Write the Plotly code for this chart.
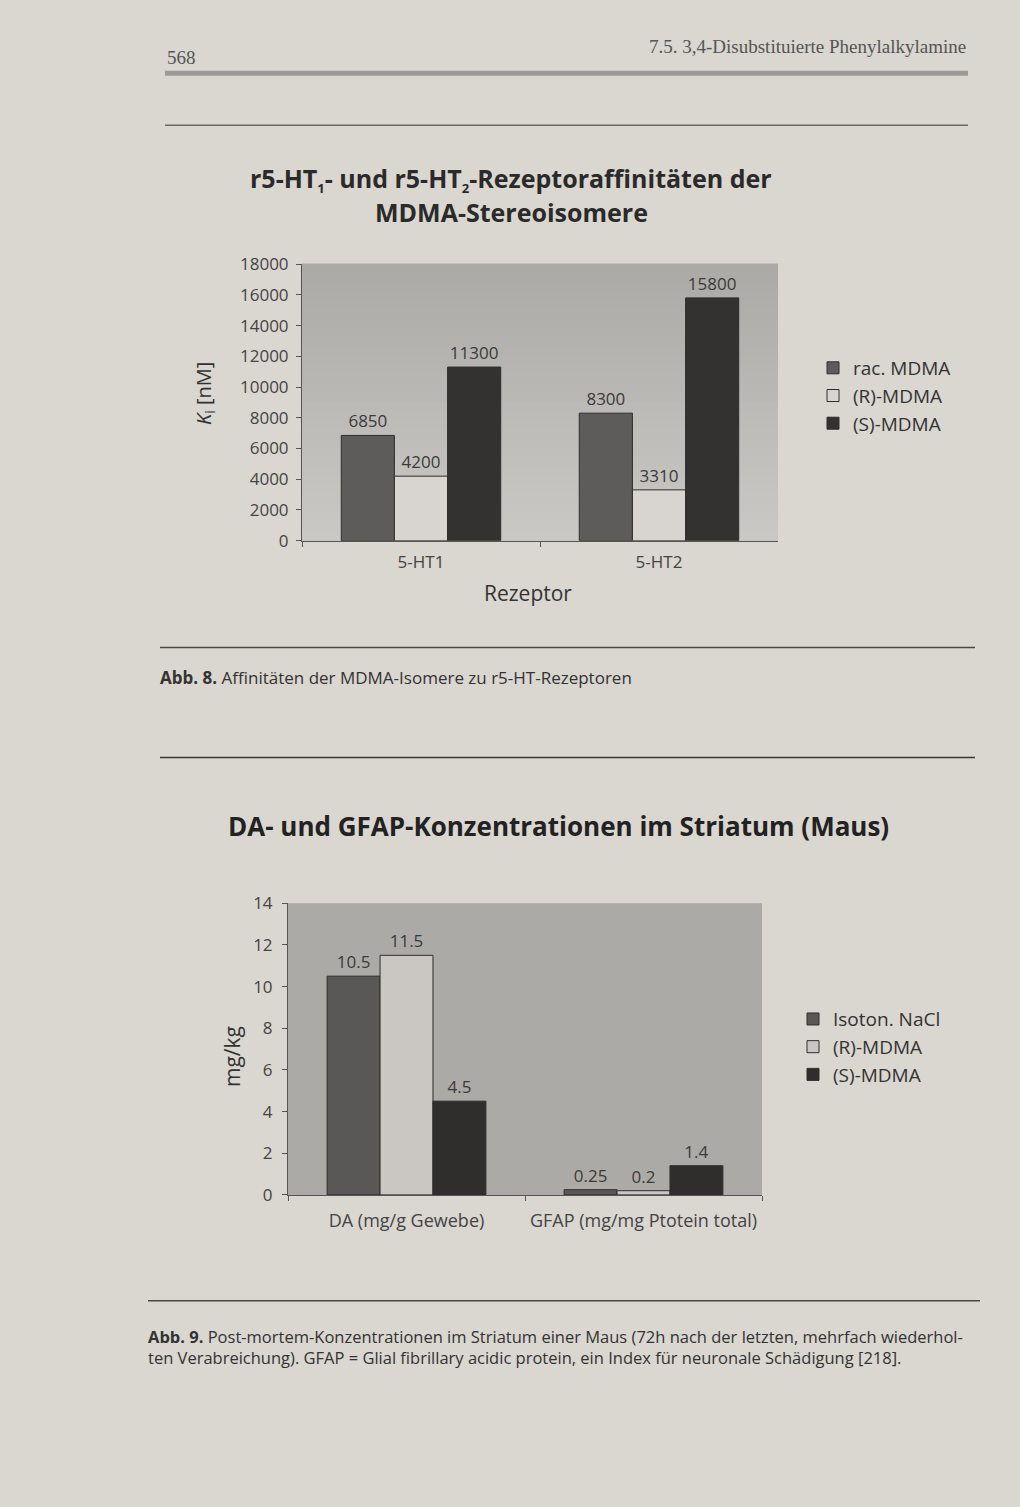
import plotly.graph_objects as go

# ---------------- data ----------------
receptors = ["5-HT1", "5-HT2"]
rac_mdma = [6850, 8300]
r_mdma_rec = [4200, 3310]
s_mdma_rec = [11300, 15800]
y1_ticks = [0, 2000, 4000, 6000, 8000, 10000, 12000, 14000, 16000, 18000]

measures = ["DA (mg/g Gewebe)", "GFAP (mg/mg Ptotein total)"]
nacl = [10.5, 0.25]
r_mdma_conc = [11.5, 0.2]
s_mdma_conc = [4.5, 1.4]
y2_ticks = [0, 2, 4, 6, 8, 10, 12, 14]

W, H = 1020, 1507
def px(x):
    return x / W
def py(y):
    # pixel row on the captured page -> paper fraction
    return 1 - ((y - 10.6) / 0.986) / H

FONT = "Open Sans"
TXT = "#3a3a3a"

fig = go.Figure()

def add_bars(xs, ys, name, color, xa, ya, legend):
    fig.add_trace(go.Bar(
        x=xs, y=ys, name=name, xaxis=xa, yaxis=ya, legend=legend,
        marker=dict(color=color, line=dict(color="#2e2e2e", width=1)),
        text=[str(v) for v in ys], textposition="outside", cliponaxis=False,
        textfont=dict(family=FONT, size=17, color=TXT),
    ))

add_bars(receptors, rac_mdma, "rac. MDMA", "#5e5c5a", "x", "y", "legend")
add_bars(receptors, r_mdma_rec, "(R)-MDMA", "#d8d5d1", "x", "y", "legend")
add_bars(receptors, s_mdma_rec, "(S)-MDMA", "#343231", "x", "y", "legend")

add_bars(measures, nacl, "Isoton. NaCl", "#5a5856", "x2", "y2", "legend2")
add_bars(measures, r_mdma_conc, "(R)-MDMA", "#cac7c3", "x2", "y2", "legend2")
add_bars(measures, s_mdma_conc, "(S)-MDMA", "#302e2d", "x2", "y2", "legend2")

axis_common = dict(
    showline=True, linecolor="#555", linewidth=1, ticks="outside", ticklen=5,
    tickcolor="#555", showgrid=False, zeroline=False,
    tickfont=dict(family=FONT, size=17, color="#444"),
)

fig.update_layout(
    width=W, height=H, margin=dict(l=0, r=0, t=0, b=0),
    paper_bgcolor="#dad6d0", plot_bgcolor="#bdbbb8",
    barmode="group", bargap=0.33, bargroupgap=0,
    showlegend=True,
    xaxis=dict(domain=[px(302), px(778)], anchor="y", tickson="boundaries",
               ticklabelstandoff=6, **axis_common),
    yaxis=dict(domain=[py(540), py(263)], anchor="x", range=[0, 18000],
               tickvals=y1_ticks, ticktext=[str(v) for v in y1_ticks],
               ticklabelstandoff=4, **axis_common),
    xaxis2=dict(domain=[px(288), px(762)], anchor="y2", tickson="boundaries",
                ticklabelstandoff=10,
                **{**axis_common, "tickfont": dict(family=FONT, size=18, color="#444")}),
    yaxis2=dict(domain=[py(1195), py(903)], anchor="x2", range=[0, 14],
                tickvals=y2_ticks, ticktext=[str(v) for v in y2_ticks],
                ticklabelstandoff=6, **axis_common),
    legend=dict(x=px(813), y=py(348), xanchor="left", yanchor="top",
                bgcolor="rgba(0,0,0,0)", font=dict(family=FONT, size=19, color="#333"),
                tracegroupgap=0, itemwidth=30),
    legend2=dict(x=px(793), y=py(1000), xanchor="left", yanchor="top",
                 bgcolor="rgba(0,0,0,0)", font=dict(family=FONT, size=19, color="#333"),
                 tracegroupgap=0, itemwidth=30),
)

# plot-area backgrounds (vertical gradient imitation for chart 1, flat for chart 2)
def lerp(c0, c1, t):
    return "#%02x%02x%02x" % tuple(int(round(a + (b - a) * t)) for a, b in zip(c0, c1))

NB = 30
top_c, bot_c = (0xac, 0xaa, 0xa7), (0xca, 0xc8, 0xc5)
for i in range(NB):
    t = i / (NB - 1)
    fig.add_shape(type="rect", xref="x domain", yref="y domain", x0=0, x1=1,
                  y0=1 - (i + 1) / NB, y1=1 - i / NB + 0.002,
                  fillcolor=lerp(top_c, bot_c, t), line=dict(width=0), layer="below")

fig.add_shape(type="rect", xref="x2 domain", yref="y2 domain", x0=0, x1=1, y0=0, y1=1,
              fillcolor="#acaaa7", line=dict(width=0), layer="below")

ann = []
def text(x, y, s, size, **kw):
    d = dict(xref="paper", yref="paper", x=px(x), y=py(y), text=s, showarrow=False,
             xanchor="center", yanchor="middle",
             font=dict(family=kw.pop("family", FONT), size=size, color=kw.pop("color", "#2a2a2a")))
    d.update(kw)
    ann.append(d)

# page header
text(165, 56, "568", 19, family="Liberation Serif", color="#555", xanchor="left")
text(968, 45, "7.5. 3,4-Disubstituierte Phenylalkylamine", 19, family="Liberation Serif",
     color="#555", xanchor="right")

# chart 1 titles
text(511, 178, "<b>r5-HT<sub><span style='font-size:13px'>1</span></sub>- und r5-HT<sub><span style='font-size:13px'>2</span></sub>-Rezeptoraffinitäten der</b>",
     25, color="#2a2a2a")
text(511, 211, "<b>MDMA-Stereoisomere</b>", 25, color="#2a2a2a")
text(205, 393, "<i>K</i><sub>i</sub> [nM]", 20, textangle=-90, color="#333")
text(528, 592, "Rezeptor", 21, color="#333")

# caption 8
text(158, 677, "<b>Abb. 8.</b> Affinitäten der MDMA-Isomere zu r5-HT-Rezeptoren", 17,
     xanchor="left", color="#333")

# chart 2 titles
text(558, 826, "<b>DA- und GFAP-Konzentrationen im Striatum (Maus)</b>", 26, color="#222")
text(232, 1057, "mg/kg", 21, textangle=-90, color="#333")

# caption 9
text(146, 1337, "<b>Abb. 9.</b> Post-mortem-Konzentrationen im Striatum einer Maus (72h nach der letzten, mehrfach wiederhol-",
     16.5, xanchor="left", color="#333")
text(146, 1358, "ten Verabreichung). GFAP = Glial fibrillary acidic protein, ein Index für neuronale Schädigung [218].",
     16.5, xanchor="left", color="#333")

fig.update_layout(annotations=ann)

def hline(x0, x1, y, w, c):
    fig.add_shape(type="line", xref="paper", yref="paper", x0=px(x0), x1=px(x1),
                  y0=py(y), y1=py(y), line=dict(color=c, width=w))

hline(165, 968, 72, 5, "#9c9a97")
hline(165, 968, 124, 1.5, "#6a6866")
hline(160, 975, 647, 1.5, "#4a4846")
hline(160, 975, 757, 1.5, "#3a3836")
hline(148, 980, 1301, 1.5, "#4a4846")

fig.write_html("out.html")
